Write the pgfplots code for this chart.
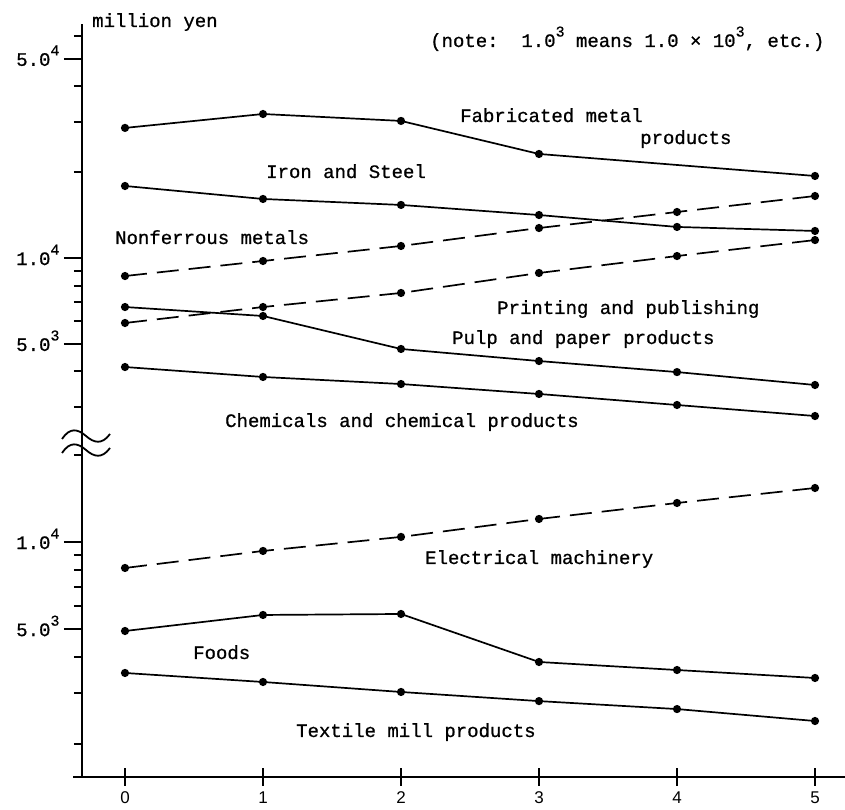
\documentclass[border=0pt]{standalone}
\usepackage{pgfplots}
\pgfplotsset{compat=1.18}
\usepackage{fontspec}
\setmainfont{Liberation Mono}[FakeBold=0.8]
\newfontfamily\tickfont{Liberation Sans}
\newcommand{\supx}[1]{\raisebox{0.55em}{\fontsize{15}{17}\selectfont #1}}
\begin{document}
\begin{tikzpicture}[font=\fontsize{19}{23}\selectfont]
\useasboundingbox (0pt,0pt) rectangle (845pt,810pt);
% upper axis
\begin{axis}[at={(82pt,365pt)}, anchor=south west,
  scale only axis, width=763pt, height=421pt,
  xmin=-0.3116, xmax=5.2174,
  ymode=log, ymin=2208, ymax=66220,
  axis x line=none, axis y line=left,
  axis line style={-, line width=2pt, black},
  tick style={line width=2pt, black},
  major tick length=18pt, minor tick length=8pt,
  ytick align=outside,
  yticklabel style={anchor=east, xshift=-1pt, yshift=3pt},
  ytick={5000,10000,50000},
  yticklabels={{5.0\supx{3}},{1.0\supx{4}},{5.0\supx{4}}},
  minor ytick={3000,4000,6000,7000,8000,9000,20000,30000,40000,60000},
  clip=false]
% Fabricated metal products (no point at 4)
\addplot[line width=1.7pt, black, mark=*, mark size=3.2pt] coordinates {(0,28600) (1,32000) (2,30260) (3,23170) (5,19400)};
% Iron and Steel
\addplot[line width=1.7pt, black, mark=*, mark size=3.2pt] coordinates {(0,17890) (1,16110) (2,15350) (3,14150) (4,12850) (5,12440)};
% Nonferrous metals
\addplot[line width=1.7pt, black, mark=*, mark size=3.2pt, mark options={solid}, dash pattern=on 22pt off 10pt] coordinates {(0,8645) (1,9760) (2,11020) (3,12740) (4,14500) (5,16500)};
% Printing and publishing
\addplot[line width=1.7pt, black, mark=*, mark size=3.2pt, mark options={solid}, dash pattern=on 22pt off 10pt] coordinates {(0,5915) (1,6730) (2,7540) (3,8860) (4,10160) (5,11560)};
% Pulp and paper products
\addplot[line width=1.7pt, black, mark=*, mark size=3.2pt] coordinates {(0,6730) (1,6260) (2,4795) (3,4350) (4,3980) (5,3585)};
% Chemicals and chemical products
\addplot[line width=1.7pt, black, mark=*, mark size=3.2pt] coordinates {(0,4145) (1,3825) (2,3613) (3,3334) (4,3050) (5,2790)};
\end{axis}
% lower axis
\begin{axis}[at={(82pt,33pt)}, anchor=south west,
  scale only axis, width=763pt, height=332pt,
  xmin=-0.3116, xmax=5.2174,
  ymode=log, ymin=1538, ymax=21650,
  axis x line=bottom, axis y line=left,
  axis line style={-, line width=2pt, black},
  x axis line style={shorten <=-9pt},
  tick style={line width=2pt, black},
  major tick length=18pt, minor tick length=8pt,
  ytick align=outside, xtick align=center,
  yticklabel style={anchor=east, xshift=-1pt, yshift=3pt},
  xtick={0,1,2,3,4,5}, xticklabels={0,1,2,3,4,5},
  xticklabel style={font=\tickfont\fontsize{17}{19}\selectfont, yshift=-2pt},
  ytick={5000,10000},
  yticklabels={{5.0\supx{3}},{1.0\supx{4}}},
  minor ytick={2000,3000,4000,6000,7000,8000,9000,20000},
  clip=false]
% Electrical machinery
\addplot[line width=1.7pt, black, mark=*, mark size=3.2pt, mark options={solid}, dash pattern=on 22pt off 10pt] coordinates {(0,8128) (1,9308) (2,10410) (3,12010) (4,13640) (5,15370)};
% Foods
\addplot[line width=1.7pt, black, mark=*, mark size=3.2pt] coordinates {(0,4920) (1,5590) (2,5634) (3,3844) (4,3606) (5,3384)};
% Textile mill products
\addplot[line width=1.7pt, black, mark=*, mark size=3.2pt] coordinates {(0,3522) (1,3278) (2,3027) (3,2815) (4,2642) (5,2402)};
\end{axis}
% axis break symbol
\draw[line width=1.8pt] (62pt,371pt) .. controls (70pt,383pt) and (78pt,381pt) .. (86pt,374pt) .. controls (94pt,367pt) and (102pt,365pt) .. (110pt,376pt);
\draw[line width=1.8pt] (62pt,357pt) .. controls (70pt,369pt) and (78pt,367pt) .. (86pt,360pt) .. controls (94pt,353pt) and (102pt,351pt) .. (110pt,362pt);
% texts
\node[anchor=base west, inner sep=0pt] at (92pt,783pt) {million yen};
\node[anchor=base west, inner sep=0pt] at (430pt,763pt) {(note:\ \ 1.0\supx{3} means 1.0 × 10\supx{3}, etc.)};
\node[anchor=base west, inner sep=0pt] at (460pt,688pt) {Fabricated metal};
\node[anchor=base west, inner sep=0pt] at (640pt,666pt) {products};
\node[anchor=base west, inner sep=0pt] at (266pt,632pt) {Iron and Steel};
\node[anchor=base west, inner sep=0pt] at (115pt,566pt) {Nonferrous metals};
\node[anchor=base west, inner sep=0pt] at (497pt,496pt) {Printing and publishing};
\node[anchor=base west, inner sep=0pt] at (452pt,466pt) {Pulp and paper products};
\node[anchor=base west, inner sep=0pt] at (225pt,383pt) {Chemicals and chemical products};
\node[anchor=base west, inner sep=0pt] at (425pt,246pt) {Electrical machinery};
\node[anchor=base west, inner sep=0pt] at (193pt,151pt) {Foods};
\node[anchor=base west, inner sep=0pt] at (296pt,73pt) {Textile mill products};
\end{tikzpicture}
\end{document}
